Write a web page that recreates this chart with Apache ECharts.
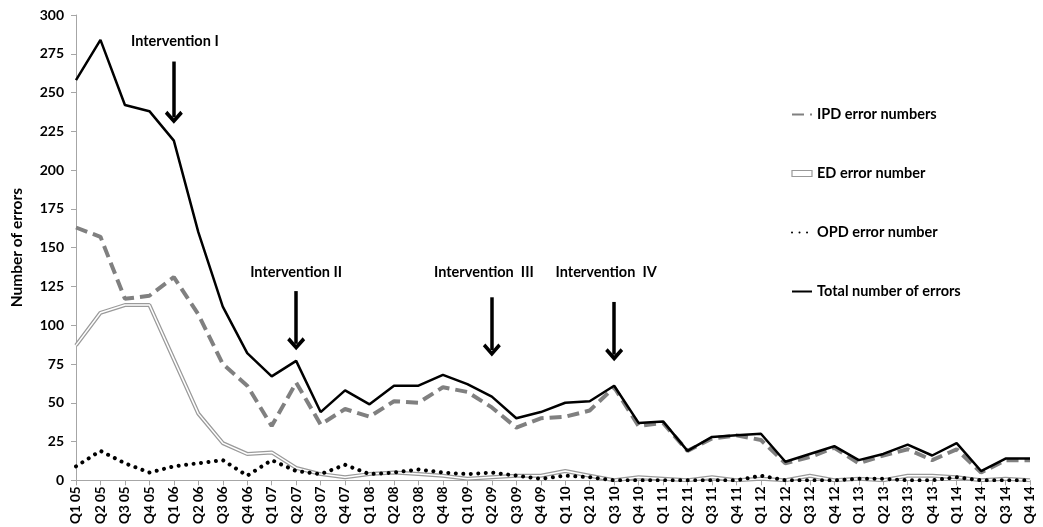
<!DOCTYPE html>
<html>
<head>
<meta charset="utf-8">
<script src="https://cdn.jsdelivr.net/npm/echarts@6/dist/echarts.min.js"></script>
<style>
html,body{margin:0;padding:0;background:#fff;}
#chart{width:1043px;height:527px;}
</style>
</head>
<body>
<div id="chart"></div>
<script>
var categories = ['Q1 05','Q2 05','Q3 05','Q4 05','Q1 06','Q2 06','Q3 06','Q4 06','Q1 07','Q2 07','Q3 07','Q4 07','Q1 08','Q2 08','Q3 08','Q4 08','Q1 09','Q2 09','Q3 09','Q4 09','Q1 10','Q2 10','Q3 10','Q4 10','Q1 11','Q2 11','Q3 11','Q4 11','Q1 12','Q2 12','Q3 12','Q4 12','Q1 13','Q2 13','Q3 13','Q4 13','Q1 14','Q2 14','Q3 14','Q4 14'];
var ipdErrors = [163,157,117,119,131,107,75,61,35,63,36,46,41,51,50,60,57,47,34,40,41,45,60,35,37,19,27,29,26,11,15,21,11,16,20,13,20,5,13,13];
var edErrors = [87,108,113,113,78,43,24,17,18,8,4,2,4,5,4,3,1,2,3,3,6,3,0,2,1,0,2,0,1,0,3,0,1,0,3,3,2,0,1,0];
var opdErrors = [9,19,11,5,9,11,13,3,13,6,4,10,4,5,7,5,4,5,3,1,3,2,0,0,0,0,0,0,3,0,0,0,1,1,0,0,2,0,0,0];
var totalErrors = [258,284,242,238,219,160,112,82,67,77,44,58,49,61,61,68,62,54,40,44,50,51,61,37,38,19,28,29,30,12,17,22,13,17,23,16,24,6,14,14];
var yTicks = {min:0, max:300, interval:25};

var interventionNames = ['Intervention I','Intervention II','Intervention  III','Intervention  IV'];
var interventionAt = ['Q1 06','Q2 07','Q2 09','Q3 10'];
var arrowTop = [270,122,118,115];
var arrowTip = [234,88,84,81];
var labelY = [283,134,134,134];
var labelShift = [1,0,-8,-8];

var seriesNames = ['IPD error numbers','ED error number','OPD error number','Total number of errors'];

var font = 'Lato, "Open Sans", sans-serif';
var chevron = 'path://M0,9 L9,0 L18,9 L15.5,11.5 L9,5 L2.5,11.5 Z';
var noSym = {color:'rgba(0,0,0,0)',borderColor:'rgba(0,0,0,0)',borderWidth:0,opacity:0};

var markLineData = interventionAt.map(function(c,i){
  return [{coord:[c, arrowTop[i]]},{coord:[c, arrowTip[i]]}];
});
var markPointData = interventionAt.map(function(c,i){
  return {coord:[c, labelY[i]], value: interventionNames[i], label:{offset:[labelShift[i],0]}};
});

var chart = echarts.init(document.getElementById('chart'));
chart.setOption({
  animation:false,
  backgroundColor:'#fff',
  grid:{left:76,right:13,top:15,bottom:46,containLabel:false},
  legend:{
    orient:'vertical', left:786, top:102, itemGap:44, itemWidth:20, itemHeight:6,
    textStyle:{fontFamily:font,fontWeight:'bold',fontSize:14.5,color:'#000'},
    data:[
      {name:seriesNames[0], itemStyle:noSym},
      {name:seriesNames[1], icon:'rect', itemStyle:{color:'#fff',borderColor:'#999',borderWidth:1.2}},
      {name:seriesNames[2], itemStyle:noSym},
      {name:seriesNames[3], itemStyle:noSym}
    ]
  },
  xAxis:{
    type:'category', data:categories, boundaryGap:false,
    axisLine:{lineStyle:{color:'#a6a6a6',width:1}},
    axisTick:{show:true,alignWithLabel:true,length:5,lineStyle:{color:'#a6a6a6'}},
    axisLabel:{rotate:90,interval:0,fontFamily:font,fontWeight:'bold',fontSize:13.5,color:'#000',margin:6},
    splitLine:{show:false}
  },
  yAxis:{
    type:'value', min:yTicks.min, max:yTicks.max, interval:yTicks.interval,
    name:'Number of errors', nameLocation:'middle', nameGap:51, nameRotate:90,
    nameTextStyle:{fontFamily:font,fontWeight:'bold',fontSize:15.5,color:'#000'},
    axisLine:{show:true,lineStyle:{color:'#a6a6a6',width:1}},
    axisTick:{show:true,length:5,lineStyle:{color:'#a6a6a6'}},
    axisLabel:{fontFamily:font,fontWeight:'bold',fontSize:14,color:'#000',margin:12},
    splitLine:{show:false}
  },
  series:[
    {name:seriesNames[0],type:'line',data:ipdErrors,showSymbol:false,symbol:'none',
     lineStyle:{color:'#808080',width:4,type:[12,6]},itemStyle:{color:'#808080'},z:2},
    {name:seriesNames[1],type:'line',data:edErrors,showSymbol:false,symbol:'none',
     lineStyle:{color:'#9a9a9a',width:4},itemStyle:{color:'#9a9a9a'},z:2},
    {name:'ED inner',type:'line',data:edErrors,showSymbol:false,symbol:'none',silent:true,
     lineStyle:{color:'#fff',width:1.5},z:3},
    {name:seriesNames[2],type:'line',data:opdErrors,showSymbol:false,symbol:'none',
     lineStyle:{color:'#000',width:4,type:[0.01,7.5],cap:'round'},itemStyle:{color:'#000'},z:4},
    {name:seriesNames[3],type:'line',data:totalErrors,showSymbol:false,symbol:'none',
     lineStyle:{color:'#000',width:2.5},itemStyle:{color:'#000'},z:5,
     markLine:{silent:true,symbol:['none',chevron],symbolSize:[18,13],
       lineStyle:{color:'#000',width:3.5,type:'solid'},label:{show:false},data:markLineData},
     markPoint:{silent:true,symbol:'rect',symbolSize:1,itemStyle:{color:'rgba(0,0,0,0)'},
       label:{show:true,position:'inside',formatter:function(p){return p.value;},
         fontFamily:font,fontWeight:'bold',fontSize:14.5,color:'#000'},data:markPointData}
    }
  ]
});
</script>
</body>
</html>
